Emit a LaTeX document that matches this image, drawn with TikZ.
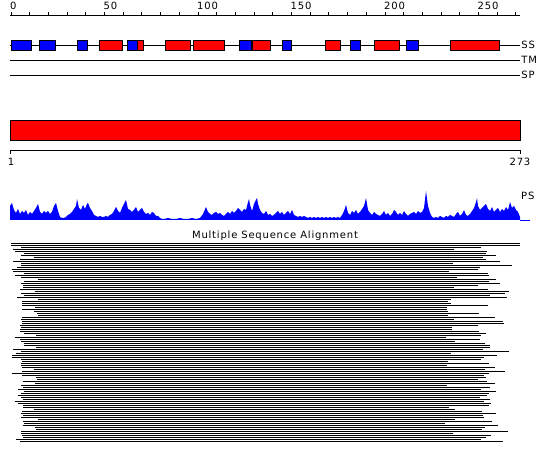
\documentclass[tikz,border=0pt]{standalone}
\usepackage{fontspec}
\setmainfont{DejaVu Sans}[LetterSpace=8]
\usepackage{xcolor}
\definecolor{ssblue}{RGB}{0,0,255}
\definecolor{ssred}{RGB}{255,0,0}
\usetikzlibrary{positioning}

\begin{document}
\begin{tikzpicture}[x=1pt,y=-1pt]

\tikzset{
  tracklabel/.style={font=\fontsize{10}{11}\selectfont, inner sep=1pt, anchor=west},
  ticklabel/.style={font=\fontsize{10}{11}\selectfont, inner sep=0pt},
  track/.style={black, line width=0.9pt},
  ssbox/.style={draw=black, line width=0.9pt},
  msaline/.style={black, line width=1pt}
}

\useasboundingbox (0,0) rectangle (550,465);

% Ruler
\draw[track] (10,15) -- (520,15);
\foreach \r in {0,10,...,270}
  \draw[track] ({11+1.87*\r},15) -- ({11+1.87*\r},12);
\foreach \r in {0,50,...,250}
  \node[ticklabel, anchor=base west] (tick\r) at ({10+1.87*\r},10) {\r};

% Tracks
\draw[track] (10,45) -- (520,45) node[tracklabel] (ss) {SS};
\draw[track] (10,60) -- (520,60) node[tracklabel] (tm) {TM};
\draw[track] (10,75) -- (520,75) node[tracklabel] (sp) {SP};

% Secondary structure
\foreach \a/\b/\c in {11/31/ssblue, 39/55/ssblue, 77/87/ssblue, 99/122/ssred,
  127/137/ssblue, 137/143/ssred, 165/190/ssred, 193/224/ssred, 239/251/ssblue,
  252/270/ssred, 282/291/ssblue, 325/340/ssred, 350/360/ssblue, 374/399/ssred,
  406/418/ssblue, 450/499/ssred}
  \draw[ssbox, fill=\c] (\a,40) rectangle (\b,50);

% Domain
\draw[ssbox, fill=ssred] (10,120) rectangle (520,140);
\draw[track] (10,154) -- (10,150) -- (520,150) -- (520,154);
\node[ticklabel, anchor=north] (first) at (11,158) {1};
\node[ticklabel, anchor=north] (last) at (520,158) {273};

% Profile
\fill[ssblue] (10,220) \foreach \x/\h in {10/14,12/17,14/10,16/7,18/11,20/6,22/9,24/7,26/10,28/5,
  30/8,32/6,34/9,36/12,38/16,40/8,42/6,44/9,46/7,48/9,50/6,52/8,54/14,56/17,58/9,
  60/3,62/2,64/2,66/3,68/5,70/6,72/8,74/11,76/14,77/21,79/12,81/10,83/15,85/11,
  87/16,88/17,90/12,92/9,94/5,96/4,98/3,100/4,102/3,104/3,106/4,108/3,110/5,112/6,
  114/9,116/13,118/9,120/7,122/12,124/16,126/20,128/11,130/10,132/8,134/10,136/13,
  138/8,140/10,142/12,144/8,146/6,148/7,150/5,152/8,154/7,156/4,158/4,160/2,162/1,
  164/1,168/2,172/1,176/1,180/2,184/1,188/1,192/2,196/1,200/2,203/6,206/13,208/8,
  210/6,212/5,214/7,216/8,218/6,220/7,222/5,224/4,226/6,228/8,230/6,232/9,234/7,
  236/9,238/12,240/10,242/8,244/11,246/10,248/18,249/21,250/15,252/9,254/16,256/20,
  257/22,258/16,260/10,262/7,264/6,266/9,268/5,270/6,272/4,274/5,276/7,278/9,280/6,
  282/8,284/5,286/7,288/9,290/6,292/10,294/5,296/4,298/3,300/4,302/3,304/4,306/3,
  308/2,310/3,312/2,314/3,316/2,318/3,320/2,322/3,324/2,326/3,328/2,330/3,332/2,
  334/3,336/2,338/3,340/2,342/5,344/9,346/15,348/7,350/5,352/9,354/7,356/10,358/6,
  360/8,362/11,364/14,366/22,368/10,370/7,372/5,374/8,376/6,378/5,380/4,382/6,
  384/9,386/5,388/7,390/4,392/6,394/10,396/8,398/5,400/7,402/5,404/9,406/6,408/4,
  410/6,412/7,414/8,416/6,418/9,420/7,422/8,424/12,426/29,428/14,430/7,432/3,434/2,
  436/3,438/2,440/4,442/3,444/2,446/4,448/3,450/5,452/4,454/3,456/6,458/8,460/4,
  462/6,464/10,466/5,468/4,470/6,472/9,474/12,476/18,477/22,478/14,480/10,482/12,
  484/14,486/16,488/11,490/9,492/13,494/8,496/10,498/12,500/8,502/11,504/9,506/13,
  508/10,510/18,512/12,514/14,516/10,518/8,520/3}
  { -- (\x,{220-\h}) } -- (520,220) -- cycle;
\draw[ssblue, line width=0.8pt] (520,220) -- (530,220);
\node[tracklabel] (ps) at (520,196) {PS};

% Alignment
\node[ticklabel] (msa) at (275,236) {Multiple Sequence Alignment};
\draw[msaline] (11,244) -- (520,244);
\draw[msaline] (11,246) -- (520,246);
\pgfmathsetseed{11}
\foreach \k in {2,...,99} {
  \pgfmathsetmacro\ya{244+2*\k}
  \pgfmathrandominteger\ra{1}{10}
  \pgfmathrandominteger\rb{1}{10}
  \pgfmathsetmacro\xa{\ra<7 ? 20+rnd*4 : (\ra<9 ? 12+rnd*6 : 33+rnd*5)}
  \pgfmathsetmacro\xb{\rb<4 ? 445+rnd*13 : (\rb<9 ? 478+rnd*14 : 495+rnd*20)}
  \draw[msaline] (\xa,\ya) -- (\xb,\ya);
}

\end{tikzpicture}
\end{document}
